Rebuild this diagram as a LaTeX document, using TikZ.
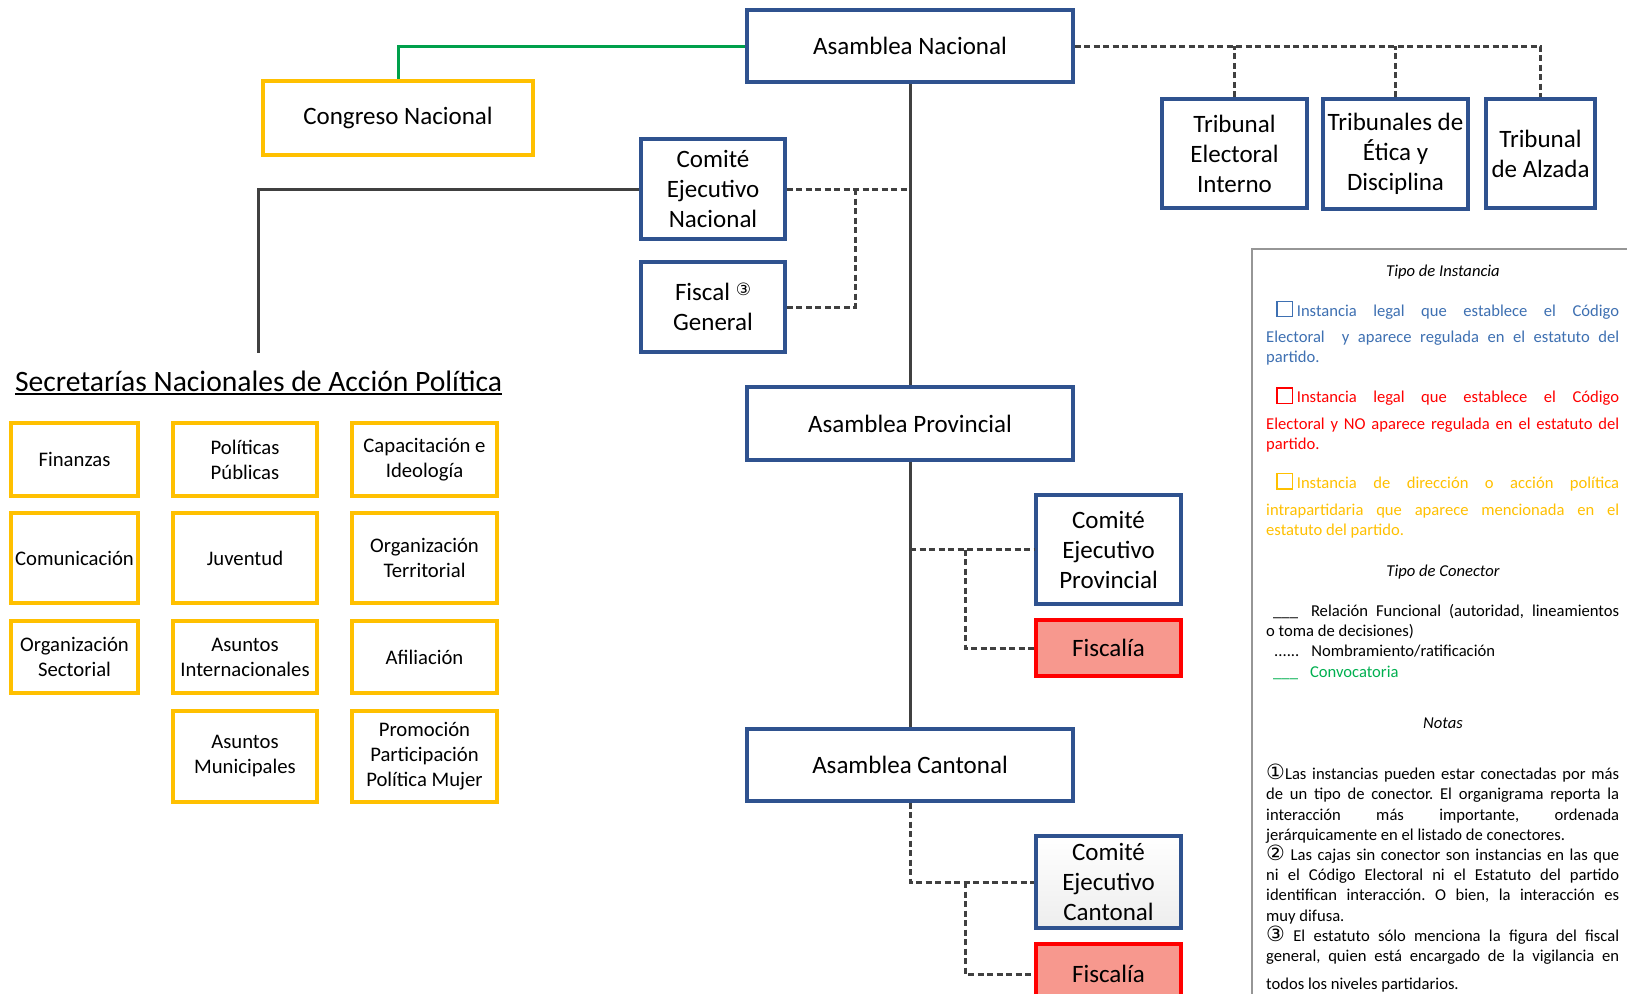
\documentclass[tikz,border=0pt]{standalone}
\usepackage{fontspec}
\setmainfont{Carlito}
\newfontfamily\symf{DejaVu Sans}
\frenchspacing
\definecolor{boxblue}{RGB}{47,82,143}
\definecolor{boxyel}{RGB}{255,192,0}
\definecolor{lineg}{RGB}{64,64,64}
\definecolor{grn}{RGB}{0,160,75}
\definecolor{salmon}{RGB}{247,152,142}
\definecolor{legblue}{RGB}{62,112,178}
\definecolor{legyel}{RGB}{255,192,0}
\definecolor{leggreen}{RGB}{0,176,80}
\definecolor{panelgray}{RGB}{150,150,150}
\newcommand\sqbox{{\fboxsep=0pt\fboxrule=1.3pt\fbox{\rule{0pt}{14pt}\hspace{14pt}}}}
\newcommand\jl[1]{\makebox[353pt][s]{#1}}
\newcommand\circn[1]{{\symf\fontsize{21}{20}\selectfont #1}}
\tikzset{
  bbox/.style={draw=boxblue, line width=3.2pt, fill=white, inner sep=0pt, align=center,
    font=\fontsize{25}{30}\selectfont},
  ybox/.style={draw=boxyel, line width=3.6pt, fill=white, inner sep=0pt, align=center,
    font=\fontsize{25}{30}\selectfont},
  secbox/.style={ybox, font=\fontsize{20.7}{25}\selectfont},
  rbox/.style={draw=red, line width=3.2pt, fill=salmon, inner sep=0pt, align=center,
    font=\fontsize{25}{30}\selectfont},
  conn/.style={draw=lineg, line width=3pt},
  dconn/.style={conn, dash pattern=on 6pt off 3.5pt},
  gconn/.style={draw=grn, line width=3pt},
  leg/.style={anchor=base west, inner sep=0pt, font=\fontsize{16.6}{20}\selectfont},
  legtitle/.style={anchor=base, inner sep=0pt, font=\fontsize{16.6}{20}\selectfont\itshape},
}
\begin{document}
\begin{tikzpicture}[x=1pt,y=-1pt]
\useasboundingbox (0,0) rectangle (1627,993);
\fill[white] (0,0) rectangle (1627,993);

% main column
\node[bbox, minimum width=326pt, minimum height=72pt] (an) at (910,46) {Asamblea Nacional};
\node[ybox, minimum width=270pt, minimum height=74pt] (cn) at (398,118) {Congreso Nacional};
\node[bbox, minimum width=144pt, minimum height=100pt] (cen) at (713,189) {Comité\\Ejecutivo\\Nacional};
\node[bbox, minimum width=144pt, minimum height=90pt] (fg) at (713,307) {Fiscal \raisebox{5pt}{{\symf\fontsize{17}{17}\selectfont ③}}\\General};
\node[bbox, minimum width=326pt, minimum height=73pt] (ap) at (910,423.5) {Asamblea Provincial};
\node[bbox, minimum width=326pt, minimum height=72pt] (acn) at (910,765) {Asamblea Cantonal};
\node[bbox, minimum width=145pt, minimum height=109pt] (cep) at (1108.5,549.5) {Comité\\Ejecutivo\\Provincial};
\node[rbox, minimum width=145pt, minimum height=56pt] (fp) at (1108.5,648) {Fiscalía};
\node[bbox, minimum width=145pt, minimum height=92pt, top color=white, bottom color=gray!14] (cec) at (1108.5,882) {Comité\\Ejecutivo\\Cantonal};
\node[rbox, minimum width=145pt, minimum height=60pt] (fc) at (1108.5,974) {Fiscalía};

% tribunals
\node[bbox, minimum width=145pt, minimum height=109pt] (tei) at (1234.5,153.5) {Tribunal\\Electoral\\Interno};
\node[bbox, minimum width=145pt, minimum height=110pt] (ted) at (1395.5,154) {Tribunales de\\Ética y\\Disciplina};
\node[bbox, minimum width=109pt, minimum height=109pt] (ta) at (1540.5,153.5) {Tribunal\\de Alzada};

% secretarias
\node[anchor=base, inner sep=0pt, font=\fontsize{29.6}{34}\selectfont] (title) at (258.5,391) {Secretarías Nacionales de Acción Política};
\draw[line width=1.8pt] ([yshift=-3pt]title.base west) -- ([yshift=-3pt]title.base east);

\node[secbox, minimum width=127pt, minimum height=73pt] (s11) at (74.5,459.5) {Finanzas};
\node[secbox, minimum width=144pt, minimum height=73pt] (s12) at (245,459.5) {Políticas\\Públicas};
\node[secbox, minimum width=145pt, minimum height=73pt] (s13) at (424.5,459.5) {Capacitación e\\Ideología};
\node[secbox, minimum width=127pt, minimum height=90pt] (s21) at (74.5,558) {Comunicación};
\node[secbox, minimum width=144pt, minimum height=90pt] (s22) at (245,558) {Juventud};
\node[secbox, minimum width=145pt, minimum height=90pt] (s23) at (424.5,558) {Organización\\Territorial};
\node[secbox, minimum width=127pt, minimum height=72pt] (s31) at (74.5,657) {Organización\\Sectorial};
\node[secbox, minimum width=144pt, minimum height=72pt] (s32) at (245,657) {Asuntos\\Internacionales};
\node[secbox, minimum width=145pt, minimum height=72pt] (s33) at (424.5,657) {Afiliación};
\node[secbox, minimum width=144pt, minimum height=91pt] (s42) at (245,756.5) {Asuntos\\Municipales};
\node[secbox, minimum width=145pt, minimum height=91pt] (s43) at (424.5,756.5) {Promoción\\Participación\\Política Mujer};

% connectors
\draw[gconn] (an.west) -| (cn.north);
\draw[conn] (an.south) -- (ap.north);
\draw[conn] (ap.south) -- (acn.north);
\coordinate (stop) at (258,353);
\draw[conn] (cen.west) -| (stop);
\draw[dconn] (cen.east) -- (cen.east -| an.south);
\coordinate (jn) at (855,189);
\draw[dconn] (jn) |- (fg.east);
\draw[dconn] (an.east) -| (ta.north);
\draw[dconn] (tei.north) -- (tei.north |- an.east);
\draw[dconn] (ted.north) -- (ted.north |- an.east);
\coordinate (jp) at (910,549.5);
\draw[dconn] (jp) -- (cep.west);
\coordinate (jp2) at (965,549.5);
\draw[dconn] (jp2) |- (fp.west);
\draw[dconn] (acn.south) |- (cec.west);
\coordinate (jc2) at (965,882);
\draw[dconn] (jc2) |- (fc.west);

% legend panel
\draw[panelgray, line width=1.6pt] (1632,249) -| (1252,1000);
\node[legtitle] (lt1) at (1443,276) {Tipo de Instancia};
\node[leg, text=legblue] (lb1) at (1266,316) {\jl{\hspace*{10pt}\sqbox\hspace{4pt}Instancia legal que establece el Código}};
\node[leg, text=legblue] (lb2) at (1266,342.7) {\jl{Electoral\ \ y aparece regulada en el estatuto del}};
\node[leg, text=legblue] (lb3) at (1266,362.7) {partido.};
\node[leg, text=red] (lr1) at (1266,402.7) {\jl{\hspace*{10pt}\sqbox\hspace{4pt}Instancia legal que establece el Código}};
\node[leg, text=red] (lr2) at (1266,429.3) {\jl{Electoral y NO aparece regulada en el estatuto del}};
\node[leg, text=red] (lr3) at (1266,449.3) {partido.};
\node[leg, text=legyel] (ly1) at (1266,488.3) {\jl{\hspace*{10pt}\sqbox\hspace{4pt}Instancia de dirección o acción política}};
\node[leg, text=legyel] (ly2) at (1266,515) {\jl{intrapartidaria que aparece mencionada en el}};
\node[leg, text=legyel] (ly3) at (1266,535) {estatuto del partido.};

\node[legtitle] (lt2) at (1443,576) {Tipo de Conector};
\node[leg] (lc1) at (1266,616.7) {\jl{\hspace*{7pt}\_\_\_\hspace{13pt}Relación Funcional (autoridad, lineamientos}};
\node[leg] (lc2) at (1266,636.7) {o toma de decisiones)};
\node[leg] (lc3) at (1266,656.7) {\hspace*{8pt}......\hspace{12pt}Nombramiento/ratificación};
\node[leg, text=leggreen] (lc4) at (1266,677.3) {\hspace*{7pt}\_\_\_\hspace{12pt}Convocatoria};

\node[legtitle] (lt3) at (1443,728.3) {Notas};
\node[leg] (n1) at (1266,779) {\jl{\circn{①}Las instancias pueden estar conectadas por más}};
\node[leg] (n2) at (1266,799.3) {\jl{de un tipo de conector. El organigrama reporta la}};
\node[leg] (n3) at (1266,820) {\jl{interacción más importante, ordenada}};
\node[leg] (n4) at (1266,840) {jerárquicamente en el listado de conectores.};
\node[leg] (n5) at (1266,860) {\jl{\circn{②} Las cajas sin conector son instancias en las que}};
\node[leg] (n6) at (1266,880) {\jl{ni el Código Electoral ni el Estatuto del partido}};
\node[leg] (n7) at (1266,900.7) {\jl{identifican interacción. O bien, la interacción es}};
\node[leg] (n8) at (1266,921.7) {muy difusa.};
\node[leg] (n9) at (1266,941.7) {\jl{\circn{③} El estatuto sólo menciona la figura del fiscal}};
\node[leg] (n10) at (1266,961.7) {\jl{general, quien está encargado de la vigilancia en}};
\node[leg] (n11) at (1266,989) {todos los niveles partidarios.};
\end{tikzpicture}
\end{document}
